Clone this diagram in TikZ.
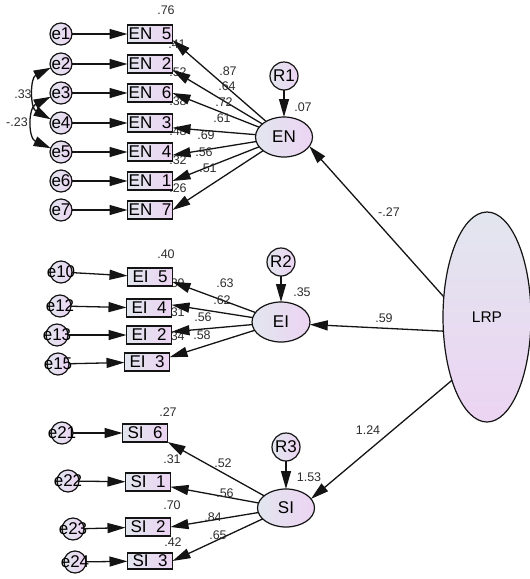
\documentclass[tikz,border=0pt]{standalone}
\usepackage{fontspec}
\setmainfont{Liberation Sans}
\usetikzlibrary{shapes.geometric,arrows.meta}
\definecolor{ga}{RGB}{226,230,238}
\definecolor{gb}{RGB}{236,212,243}
\definecolor{ink}{RGB}{20,20,20}
\definecolor{labc}{RGB}{45,45,45}
\begin{document}
\begin{tikzpicture}[x=1pt,y=-1pt,
  every node/.style={inner sep=0pt, outer sep=0pt},
  obs/.style={draw=ink, line width=1.5pt, rectangle, minimum width=45pt, minimum height=18pt, left color=ga, right color=gb, font=\fontsize{17}{17}\selectfont},
  err/.style={draw=ink, line width=1.2pt, circle, minimum size=22pt, left color=ga, right color=gb, font=\fontsize{17}{17}\selectfont},
  res/.style={err, minimum size=28pt},
  lat/.style={draw=ink, line width=1.2pt, ellipse, left color=ga, right color=gb, font=\fontsize{17}{17}\selectfont},
  lab/.style={font=\fontsize{12.5}{12.5}\selectfont, text=labc},
  arr/.style={draw=ink, line width=1.3pt, -{Triangle[length=18pt,width=10pt]}},
  dbl/.style={draw=ink, line width=1.3pt, {Triangle[length=17pt,width=10pt]}-{Triangle[length=17pt,width=10pt]}},
]
\newcommand{\zt}[1]{\makebox[0pt]{#1}}
\useasboundingbox (0,0) rectangle (530,579);
% ---------- R-square labels (behind) ----------
\node[lab] (r5) at (166,10) {.76};
\node[lab] (r2) at (177,44) {.41};
\node[lab] (r6) at (178,72) {.52};
\node[lab] (r3) at (178,101) {.38};
\node[lab] (r4) at (178,131) {.48};
\node[lab] (r1) at (178,160) {.32};
\node[lab] (r7) at (178,188) {.26};
\node[lab] (q5) at (166,254) {.40};
\node[lab] (q4) at (176,283) {.39};
\node[lab] (q2) at (176,312) {.31};
\node[lab] (q3) at (176,336) {.34};
\node[lab] (s6) at (168,412) {.27};
\node[lab] (s1) at (172,459) {.31};
\node[lab] (s2) at (172,505) {.70};
\node[lab] (s3) at (173,542) {.42};
% ---------- EN block ----------
\node[err] (e1) at (61,34) {\zt{e1}};
\node[err] (e2) at (61,64) {\zt{e2}};
\node[err] (e3) at (61,93) {\zt{e3}};
\node[err] (e4) at (61,123) {\zt{e4}};
\node[err] (e5) at (61,152) {\zt{e5}};
\node[err] (e6) at (61,181) {\zt{e6}};
\node[err] (e7) at (61,210) {\zt{e7}};
\node[obs] (en5) at (150,34) {EN~~5};
\node[obs] (en2) at (150,64) {EN~~2};
\node[obs] (en6) at (150,93) {EN~~6};
\node[obs] (en3) at (150,123) {EN~~3};
\node[obs] (en4) at (150,152) {EN~~4};
\node[obs] (en1) at (150,181) {EN~~1};
\node[obs] (en7) at (150,210) {EN~~7};
\node[lat, minimum width=57pt, minimum height=40pt] (EN) at (284,137) {EN};
\node[res] (R1) at (284,76) {R1};
% ---------- EI block ----------
\node[err] (e10) at (61,272) {\zt{e10}};
\node[err] (e12) at (60,306) {\zt{e12}};
\node[err] (e13) at (57,335) {\zt{e13}};
\node[err] (e15) at (58,364) {\zt{e15}};
\node[obs] (ei5) at (150,277) {EI~~5};
\node[obs] (ei4) at (149,308) {EI~~4};
\node[obs] (ei2) at (149,335) {EI~~2};
\node[obs] (ei3) at (147,362) {EI~~3};
\node[lat, minimum width=58pt, minimum height=40pt] (EI) at (281,322) {EI};
\node[res] (R2) at (281,262) {R2};
% ---------- SI block ----------
\node[err] (e21) at (62,433) {\zt{e21}};
\node[err] (e22) at (68,481) {\zt{e22}};
\node[err] (e23) at (73,529) {\zt{e23}};
\node[err] (e24) at (75,562) {\zt{e24}};
\node[obs] (si6) at (145,433) {SI~~6};
\node[obs] (si1) at (148,482) {SI~~1};
\node[obs] (si2) at (148,527) {SI~~2};
\node[obs, minimum height=16pt] (si3) at (150,561) {SI~~3};
\node[lat, minimum width=57pt, minimum height=38pt] (SI) at (286,508) {SI};
\node[res] (R3) at (286,447) {R3};
% ---------- LRP ----------
\node[draw=ink, line width=1.2pt, ellipse, minimum width=88pt, minimum height=210pt,
      top color=ga, bottom color=gb, font=\fontsize{15.5}{15.5}\selectfont] (LRP) at (487,317) {LRP};
% ---------- error arrows ----------
\foreach \a/\b in {e1/en5,e2/en2,e3/en6,e4/en3,e5/en4,e6/en1,e7/en7,
                   e10/ei5,e12/ei4,e13/ei2,e15/ei3,e21/si6,e22/si1,e23/si2,e24/si3}
  \draw[arr] (\a) -- (\b);
\draw[arr] (R1) -- (EN);
\draw[arr] (R2) -- (EI);
\draw[arr] (R3) -- (SI);
% ---------- loadings ----------
\draw[arr] (EN) -- (en5.-15);
\draw[arr] (EN) -- (en2.-15);
\draw[arr] (EN) -- (en6.east);
\draw[arr] (EN) -- (en3.-12);
\draw[arr] (EN) -- (en4.-8);
\draw[arr] (EN) -- (en1.east);
\draw[arr] (EN) -- (en7.east);
\draw[arr] (EI) -- (ei5.-12);
\draw[arr] (EI) -- (ei4.8);
\draw[arr] (EI) -- (ei2.8);
\draw[arr] (EI) -- (ei3.12);
\draw[arr] (SI) -- (si6.south east);
\draw[arr] (SI) -- (si1.-12);
\draw[arr] (SI) -- (si2.east);
\draw[arr] (SI) -- (si3.east);
% ---------- structural ----------
\draw[arr] (LRP.155) -- (EN.-20);
\draw[arr] (LRP.198) -- (EI.-5);
\draw[arr] (LRP.241) -- (SI.20);
% ---------- covariances ----------
\draw[dbl] (e2.200) .. controls (30,78) and (30,108) .. (e4.160);
\draw[dbl] (e3.200) .. controls (28,108) and (28,138) .. (e5.160);
% ---------- labels ----------
\node[lab] (c24) at (23,94) {.33};
\node[lab] (c35) at (17,122) {-.23};
\node[lab] (l5) at (228,71) {.87};
\node[lab] (l2) at (227,86) {.64};
\node[lab] (l6) at (224,102) {.72};
\node[lab] (l3) at (222,118) {.61};
\node[lab] (l4) at (206,135) {.69};
\node[lab] (l1) at (204,152) {.56};
\node[lab] (l7) at (208,168) {.51};
\node[lab] (v1) at (303,107) {.07};
\node[lab] (m5) at (225,283) {.63};
\node[lab] (m4) at (222,300) {.62};
\node[lab] (m2) at (203,317) {.56};
\node[lab] (m3) at (202,335) {.58};
\node[lab] (v2) at (302,292) {.35};
\node[lab] (n6) at (223,463) {.52};
\node[lab] (n1) at (225,493) {.56};
\node[lab] (n2) at (213,517) {.84};
\node[lab] (n3) at (218,535) {.65};
\node[lab] (v3) at (309,477) {1.53};
\node[lab] (g1) at (389,212) {-.27};
\node[lab] (g2) at (384,318) {.59};
\node[lab] (g3) at (368,430) {1.24};
\end{tikzpicture}
\end{document}
